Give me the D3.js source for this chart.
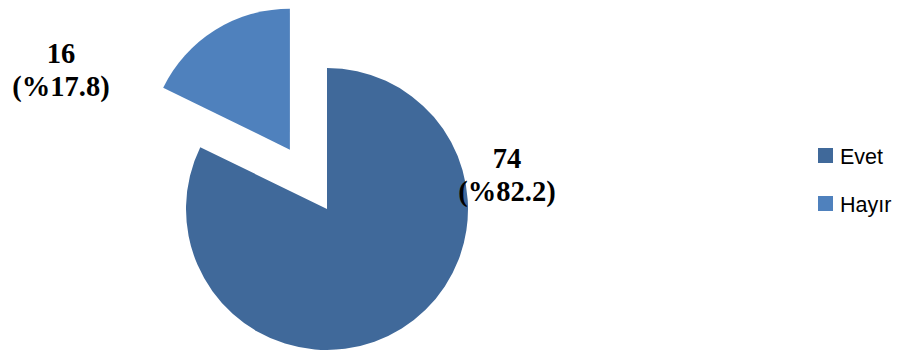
<!DOCTYPE html>
<html>
<head>
<meta charset="utf-8">
<script src="https://cdn.jsdelivr.net/npm/d3@7"></script>
<style>
  html, body { margin: 0; padding: 0; background: #ffffff; }
  svg { display: block; }
</style>
</head>
<body>
<svg id="chart" width="902" height="356"></svg>
<script>
// Survey answers
const categories = ["Evet", "Hayır"];
const counts = [74, 16];
const percentLabels = ["%82.2", "%17.8"];
const colors = ["#40699a", "#4f81bd"];

const svg = d3.select("#chart");
const cx = 327, cy = 209, radius = 141;
const explode = { "Hayır": 70 };

const pie = d3.pie().sort(null).value(d => d.value);
const arcs = pie(categories.map((c, i) => ({ name: c, value: counts[i], pct: percentLabels[i], color: colors[i] })));
const arc = d3.arc().innerRadius(0).outerRadius(radius);

const g = svg.append("g").attr("transform", `translate(${cx},${cy})`);

arcs.forEach(a => {
  const mid = (a.startAngle + a.endAngle) / 2;
  const off = explode[a.data.name] || 0;
  const dx = Math.sin(mid) * off, dy = -Math.cos(mid) * off;
  g.append("path")
    .attr("d", arc(a))
    .attr("transform", `translate(${dx},${dy})`)
    .attr("fill", a.data.color);
});

// Data labels: count and percentage, placed outside the slices
const labelPos = { "Evet": [507, 168], "Hayır": [61, 63] };
arcs.forEach(a => {
  const [lx, ly] = labelPos[a.data.name];
  const t = svg.append("text")
    .attr("x", lx).attr("y", ly)
    .attr("text-anchor", "middle")
    .attr("font-family", "'Liberation Serif', 'Times New Roman', serif")
    .attr("font-weight", "bold")
    .attr("font-size", 28.5)
    .attr("fill", "#000");
  t.append("tspan").attr("x", lx).text(a.data.value);
  t.append("tspan").attr("x", lx).attr("dy", 33).text(`(${a.data.pct})`);
});

// Legend
const legend = svg.append("g").attr("transform", "translate(818,148)");
categories.forEach((c, i) => {
  const row = legend.append("g").attr("transform", `translate(0,${i * 48})`);
  row.append("rect").attr("width", 15).attr("height", 15).attr("fill", colors[i]);
  row.append("text")
    .attr("x", 22).attr("y", 15.5)
    .attr("font-family", "'Liberation Sans', Arial, sans-serif")
    .attr("font-size", 21.5)
    .attr("fill", "#000")
    .text(c);
});
</script>
</body>
</html>
